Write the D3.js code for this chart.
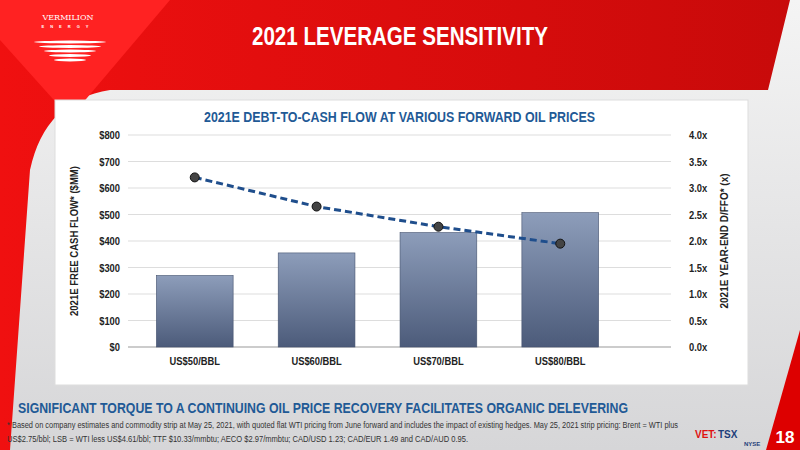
<!DOCTYPE html>
<html><head><meta charset="utf-8">
<script src="https://cdn.jsdelivr.net/npm/d3@7"></script>
<style>body{margin:0;background:#eee}svg{display:block;font-family:"Liberation Sans Narrow","Arial Narrow","Liberation Sans",sans-serif;font-weight:bold}</style>
</head><body><svg id="c" width="800" height="450"></svg>
<script>
const categories = ['US$50/BBL', 'US$60/BBL', 'US$70/BBL', 'US$80/BBL']
const freeCashFlow = [270, 355, 432, 507]
const debtToCash = [3.2, 2.65, 2.27, 1.95]
const leftTicks = [0, 100, 200, 300, 400, 500, 600, 700, 800]
const rightTicks = [0, 0.5, 1, 1.5, 2, 2.5, 3, 3.5, 4]

const svg = d3.select('#c')
const defs = svg.append('defs')
let g1 = defs.append('linearGradient').attr('id', 'bg').attr('x1', 0).attr('y1', 0).attr('x2', 0).attr('y2', 1)
g1.append('stop').attr('offset', 0).attr('stop-color', '#f4f4f4')
g1.append('stop').attr('offset', 1).attr('stop-color', '#d6d6d8')
let g2 = defs.append('linearGradient').attr('id', 'bar').attr('x1', 0).attr('y1', 0).attr('x2', 0).attr('y2', 1)
g2.append('stop').attr('offset', 0).attr('stop-color', '#8d9dba')
g2.append('stop').attr('offset', 1).attr('stop-color', '#4c5b7a')
let g3 = defs.append('linearGradient').attr('id', 'red').attr('x1', 0).attr('y1', 0).attr('x2', 1).attr('y2', 0)
g3.append('stop').attr('offset', 0).attr('stop-color', '#f01010')
g3.append('stop').attr('offset', 1).attr('stop-color', '#c80a0a')

// condensed look: squeeze text to the reference widths
const fit = (sel, w) => sel.attr('textLength', w).attr('lengthAdjust', 'spacingAndGlyphs')

// background + red banner
svg.append('rect').attr('width', 800).attr('height', 450).attr('fill', 'url(#bg)')
svg.append('path').attr('d', 'M0,0 L790,0 L768,90 L110,90 Q45,100 30,170 L10,450 L0,450 Z').attr('fill', 'url(#red)')
svg.append('path').attr('d', 'M0,0 L170,0 L70,118 L0,40 Z').attr('fill', '#f22')
svg.append('path').attr('d', 'M766,450 L800,330 L800,450 Z').attr('fill', '#d00')
svg.append('text').attr('x', 68).attr('y', 20).attr('text-anchor', 'middle').attr('fill', '#fff')
  .style('font-size', '8px').style('font-family', 'DejaVu Serif').style('font-weight', 'normal').text('VERMILION')
svg.append('text').attr('x', 68).attr('y', 28).attr('text-anchor', 'middle').attr('fill', '#fff')
  .style('font-size', '4px').attr('letter-spacing', 6).text('ENERGY')
for (let i = 0; i < 5; i++) {
  svg.append('ellipse').attr('cx', 70).attr('cy', 42 + i * 4.5).attr('rx', 36 - i * 5).attr('ry', 1.4).attr('fill', '#fff')
}
fit(svg.append('text').attr('x', 252).attr('y', 45).attr('fill', '#fff')
  .style('font-size', '25px').text('2021 LEVERAGE SENSITIVITY'), 296)

// chart panel
svg.append('rect').attr('x', 55).attr('y', 100).attr('width', 693).attr('height', 285).attr('fill', '#fff').attr('stroke', '#ddd')
fit(svg.append('text').attr('x', 204).attr('y', 122).attr('fill', '#1f5a96')
  .style('font-size', '14px').text('2021E DEBT-TO-CASH FLOW AT VARIOUS FORWARD OIL PRICES'), 391)

const m = { l: 132, r: 623, t: 135, b: 347 }
const x = d3.scaleBand().domain(categories).range([m.l, m.r]).paddingInner(0.37).paddingOuter(0.2)
const yL = d3.scaleLinear().domain([0, 800]).range([m.b, m.t])
const yR = d3.scaleLinear().domain([0, 4]).range([m.b, m.t])

svg.append('g').selectAll('line').data(leftTicks).join('line')
  .attr('x1', m.l - 4).attr('x2', m.r + 48).attr('y1', d => yL(d)).attr('y2', d => yL(d))
  .attr('stroke', d => d === 0 ? '#999' : '#ddd')

const tickStyle = s => s.selectAll('text').style('font-size', '11px').style('font-family', 'inherit')
  .attr('fill', '#222').attr('transform', 'scale(0.88,1)')
svg.append('g').attr('transform', `translate(${m.l - 4},0)`)
  .call(d3.axisLeft(yL).tickValues(leftTicks).tickFormat(d => '$' + d).tickSize(0).tickPadding(8))
  .call(a => a.select('.domain').remove())
  .call(a => a.selectAll('text').style('font-size', '11px').style('font-family', 'inherit').attr('fill', '#222').attr('textLength', function () { return this.getComputedTextLength() * 0.85 }).attr('lengthAdjust', 'spacingAndGlyphs'))
svg.append('g').attr('transform', `translate(${m.r + 50},0)`)
  .call(d3.axisRight(yR).tickValues(rightTicks).tickFormat(d => d.toFixed(1) + 'x').tickSize(0).tickPadding(16))
  .call(a => a.select('.domain').remove())
  .call(a => a.selectAll('text').style('font-size', '11px').style('font-family', 'inherit').attr('fill', '#222').attr('textLength', function () { return this.getComputedTextLength() * 0.85 }).attr('lengthAdjust', 'spacingAndGlyphs'))

svg.append('g').selectAll('rect').data(freeCashFlow).join('rect')
  .attr('x', (d, i) => x(categories[i])).attr('width', x.bandwidth())
  .attr('y', d => yL(d)).attr('height', d => yL(0) - yL(d))
  .attr('fill', 'url(#bar)').attr('stroke', '#45536f').attr('stroke-width', 0.6)

svg.append('g').attr('transform', `translate(0,${m.b})`)
  .call(d3.axisBottom(x).tickSize(0).tickPadding(10))
  .call(a => a.select('.domain').remove())
  .call(a => a.selectAll('text').style('font-size', '11px').style('font-family', 'inherit').attr('fill', '#222').attr('textLength', function () { return this.getComputedTextLength() * 0.85 }).attr('lengthAdjust', 'spacingAndGlyphs'))

const cx = (d, i) => x(categories[i]) + x.bandwidth() / 2
svg.append('path').datum(debtToCash)
  .attr('d', d3.line().x(cx).y(d => yR(d)))
  .attr('fill', 'none').attr('stroke', '#1f4e8c').attr('stroke-width', 3).attr('stroke-dasharray', '7,4')
svg.append('g').selectAll('circle').data(debtToCash).join('circle')
  .attr('cx', cx).attr('cy', d => yR(d)).attr('r', 4.5).attr('fill', '#444').attr('stroke', '#111')

fit(svg.append('text').attr('transform', `translate(78,${(m.t + m.b) / 2}) rotate(-90)`).attr('text-anchor', 'middle')
  .style('font-size', '11px').attr('fill', '#222').text('2021E FREE CASH FLOW* ($MM)'), 150)
fit(svg.append('text').attr('transform', `translate(728,${(m.t + m.b) / 2}) rotate(-90)`).attr('text-anchor', 'middle')
  .style('font-size', '11px').attr('fill', '#222').text('2021E YEAR-END D/FFO* (x)'), 135)

// footer
fit(svg.append('text').attr('x', 18).attr('y', 413).attr('fill', '#1f5a96').style('font-size', '15px')
  .text('SIGNIFICANT TORQUE TO A CONTINUING OIL PRICE RECOVERY FACILITATES ORGANIC DELEVERING'), 610)
const note = ['* Based on company estimates and commodity strip at May 25, 2021, with quoted flat WTI pricing from June forward and includes the impact of existing hedges. May 25, 2021 strip pricing: Brent = WTI plus',
  'US$2.75/bbl; LSB = WTI less US$4.61/bbl; TTF $10.33/mmbtu; AECO $2.97/mmbtu; CAD/USD 1.23; CAD/EUR 1.49 and CAD/AUD 0.95.']
const noteW = [671, 461]
svg.append('g').selectAll('text').data(note).join('text')
  .attr('x', 7).attr('y', (d, i) => 428 + i * 14).attr('fill', '#333')
  .style('font-size', '8.5px').style('font-weight', 'normal').text(d => d)
  .attr('textLength', (d, i) => noteW[i]).attr('lengthAdjust', 'spacingAndGlyphs')
svg.append('text').attr('x', 695).attr('y', 438).attr('fill', '#e01010').style('font-size', '10px').text('VET:')
svg.append('text').attr('x', 718).attr('y', 438).attr('fill', '#1f3f7a').style('font-size', '10px').text('TSX')
svg.append('text').attr('x', 744).attr('y', 446).attr('fill', '#1f3f7a').style('font-size', '6px').text('NYSE')
svg.append('text').attr('x', 785).attr('y', 443).attr('text-anchor', 'middle').attr('fill', '#fff').style('font-size', '17px').text('18')
</script></body></html>
